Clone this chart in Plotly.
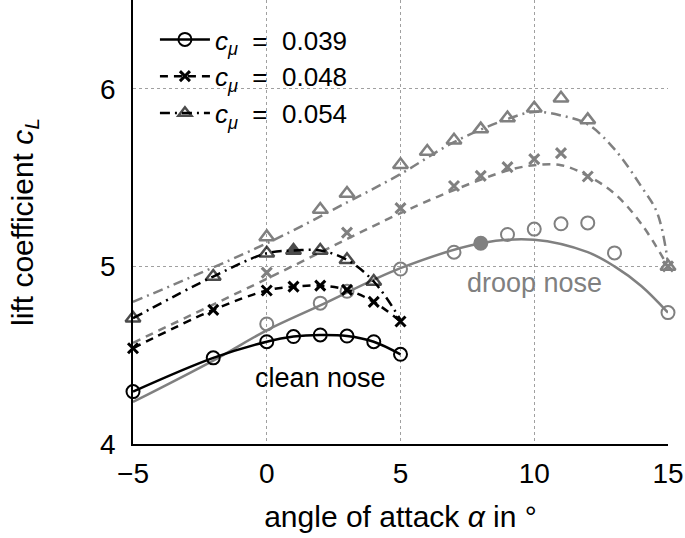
import plotly.graph_objects as go

# clean nose (black), measured points
alpha_clean = [-5, -2, 0, 1, 2, 3, 4, 5]
cl_clean_039 = [4.295, 4.485, 4.576, 4.605, 4.614, 4.608, 4.576, 4.505]
cl_clean_048 = [4.539, 4.755, 4.864, 4.886, 4.892, 4.868, 4.800, 4.690]
cl_clean_054 = [4.708, 4.943, 5.074, 5.089, 5.089, 5.037, 4.915, 4.700]

# droop nose (gray), measured points
alpha_droop_039 = [0, 2, 3, 5, 7, 8, 9, 10, 11, 12, 13, 15]
cl_droop_039 = [4.676, 4.793, 4.860, 4.985, 5.080, 5.130, 5.180, 5.210, 5.240, 5.245, 5.076, 4.740]
alpha_droop_048 = [0, 3, 5, 7, 8, 9, 10, 11, 12, 15]
cl_droop_048 = [4.965, 5.190, 5.328, 5.453, 5.510, 5.559, 5.604, 5.638, 5.506, 5.000]
alpha_droop_054 = [0, 2, 3, 5, 6, 7, 8, 9, 10, 11, 12, 15]
cl_droop_054 = [5.166, 5.320, 5.410, 5.572, 5.647, 5.710, 5.773, 5.835, 5.890, 5.947, 5.825, 5.000]

# droop nose fitted curves
fit_alpha_039 = [-5, -2, 0, 2, 5, 8, 10, 12, 13, 14, 15]
fit_cl_039 = [4.237, 4.47, 4.64, 4.78, 4.99, 5.13, 5.15, 5.08, 5.00, 4.89, 4.74]
fit_alpha_048 = [-5, 0, 5, 7, 9, 10, 11, 12, 13, 14, 15]
fit_cl_048 = [4.57, 4.93, 5.30, 5.43, 5.54, 5.57, 5.57, 5.51, 5.41, 5.24, 5.00]
fit_alpha_054 = [-5, 0, 3, 5, 7, 9, 10, 11, 12, 13, 14, 14.6, 15]
fit_cl_054 = [4.80, 5.13, 5.36, 5.52, 5.70, 5.83, 5.87, 5.85, 5.80, 5.66, 5.45, 5.30, 5.02]

BLACK = '#000000'
GRAY = '#808080'
FONT = 'Liberation Sans, Arial, sans-serif'

fig = go.Figure()

# --- droop nose (gray) ---
fig.add_trace(go.Scatter(x=fit_alpha_039, y=fit_cl_039, mode='lines', line_shape='spline',
                         line=dict(color=GRAY, width=2.5), showlegend=False, cliponaxis=False))
fig.add_trace(go.Scatter(x=fit_alpha_048, y=fit_cl_048, mode='lines', line_shape='spline',
                         line=dict(color=GRAY, width=2.5, dash='8px,6px'), showlegend=False, cliponaxis=False))
fig.add_trace(go.Scatter(x=fit_alpha_054, y=fit_cl_054, mode='lines', line_shape='spline',
                         line=dict(color=GRAY, width=2.5, dash='10px,5px,2px,5px'), showlegend=False, cliponaxis=False))

droop_symbols = ['circle' if a == 8 else 'circle-open' for a in alpha_droop_039]
fig.add_trace(go.Scatter(x=alpha_droop_039, y=cl_droop_039, mode='markers', showlegend=False, cliponaxis=False,
                         marker=dict(symbol=droop_symbols, size=13, color=GRAY, line=dict(color=GRAY, width=2))))
fig.add_trace(go.Scatter(x=alpha_droop_048, y=cl_droop_048, mode='markers', showlegend=False, cliponaxis=False,
                         marker=dict(symbol='x-thin', size=10, line=dict(color=GRAY, width=3))))
fig.add_trace(go.Scatter(x=alpha_droop_054, y=cl_droop_054, mode='markers', showlegend=False, cliponaxis=False,
                         marker=dict(symbol='triangle-up-open', size=13, color=GRAY, line=dict(color=GRAY, width=2.5))))

# --- clean nose (black) ---
fig.add_trace(go.Scatter(x=alpha_clean, y=cl_clean_039, mode='lines+markers', line_shape='spline',
                         name='<i>c</i><sub><i>μ</i></sub>  =  0.039', cliponaxis=False,
                         line=dict(color=BLACK, width=2.5),
                         marker=dict(symbol='circle-open', size=13, color=BLACK, line=dict(color=BLACK, width=2))))
fig.add_trace(go.Scatter(x=alpha_clean, y=cl_clean_048, mode='lines+markers', line_shape='spline',
                         name='<i>c</i><sub><i>μ</i></sub>  =  0.048', cliponaxis=False,
                         line=dict(color=BLACK, width=2.5, dash='8px,6px'),
                         marker=dict(symbol='x-thin', size=10, color=BLACK, line=dict(color=BLACK, width=3))))
tri_symbols = ['triangle-up' if a == 1 else 'triangle-up-open' for a in alpha_clean]
tri_sizes = [0 if a == 5 else 13 for a in alpha_clean]
fig.add_trace(go.Scatter(x=alpha_clean, y=cl_clean_054, mode='lines+markers', line_shape='spline',
                         name='<i>c</i><sub><i>μ</i></sub>  =  0.054', cliponaxis=False,
                         line=dict(color=BLACK, width=2.5, dash='10px,5px,2px,5px'),
                         marker=dict(symbol=tri_symbols, size=tri_sizes, color=BLACK, line=dict(color=BLACK, width=2.5))))

fig.add_annotation(x=2, y=4.372, text='clean nose', showarrow=False,
                   font=dict(family=FONT, size=27, color=BLACK))
fig.add_annotation(x=10, y=4.907, text='droop nose', showarrow=False,
                   font=dict(family=FONT, size=27, color=GRAY))

fig.update_layout(
    width=685, height=538,
    margin=dict(l=133, r=17, t=0, b=94, autoexpand=False),
    plot_bgcolor='white', paper_bgcolor='white',
    font=dict(family=FONT, size=26, color=BLACK),
    legend=dict(x=0.041, y=0.964, xanchor='left', yanchor='top', bgcolor='rgba(255,255,255,0)',
                font=dict(size=26), itemwidth=50, tracegroupgap=0),
)
fig.update_xaxes(range=[-5, 15], dtick=5, tick0=-5, showline=True, linecolor=BLACK, linewidth=1.5,
                 showgrid=True, gridcolor='#a0a0a0', griddash='dot', gridwidth=1, zeroline=False,
                 ticks='', tickfont=dict(size=28), ticklabelstandoff=4, automargin=False,
                 title=dict(text='angle of attack <i>α</i> in °', font=dict(size=30), standoff=18))
fig.update_yaxes(range=[4, 6.5], dtick=1, tick0=4, showline=True, linecolor=BLACK, linewidth=1.5,
                 showgrid=True, gridcolor='#a0a0a0', griddash='dot', gridwidth=1, zeroline=False,
                 ticks='', tickfont=dict(size=28), ticklabelstandoff=10, automargin=False,
                 title=dict(text='lift coefficient <i>c</i><sub><i>L</i></sub>', font=dict(size=30), standoff=58))

# the page's default body margin would shift the figure by 8px
fig.write_html("out.html", post_script="document.body.style.margin='0';",
               config={'displayModeBar': False})
